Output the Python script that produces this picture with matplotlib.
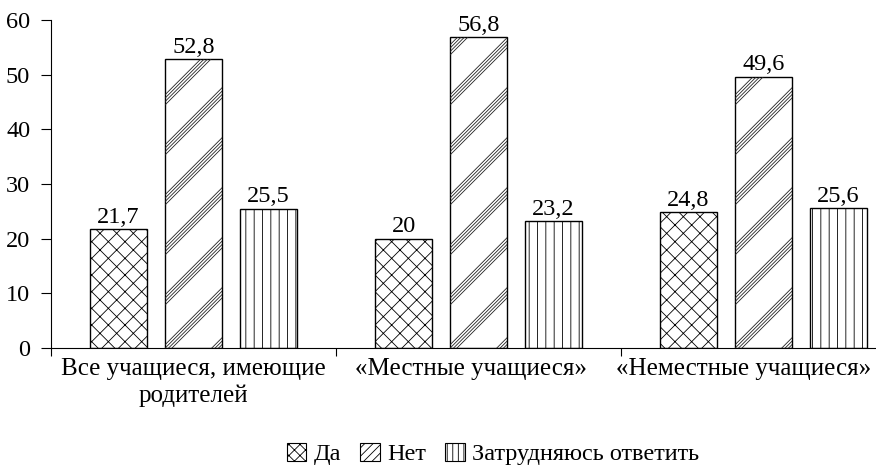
import matplotlib
matplotlib.use("Agg")
import matplotlib.pyplot as plt
from matplotlib.patches import Patch
from matplotlib.lines import Line2D
from matplotlib.transforms import IdentityTransform
import numpy as np

# данные
groups = ["Все учащиеся, имеющие\nродителей", "«Местные учащиеся»", "«Неместные учащиеся»"]
answers = ["Да", "Нет", "Затрудняюсь ответить"]
da = [21.7, 20.0, 24.8]
net = [52.8, 56.8, 49.6]
zatr = [25.5, 23.2, 25.6]
yticks = [0, 10, 20, 30, 40, 50, 60]

plt.rcParams['font.family'] = ['Liberation Serif', 'DejaVu Serif']
plt.rcParams['hatch.linewidth'] = 0.6
FS = 17.5

fig = plt.figure(figsize=(8.76, 4.68), dpi=100)
ax = fig.add_axes([51/876, 120/468, 855/876, 328/468])

x = np.arange(len(groups)) + 0.5
w = 0.2
step = 0.263
b1 = ax.bar(x - step, da, w, color='white', edgecolor='black', hatch='xx', lw=1)
b2 = ax.bar(x, net, w, color='white', edgecolor='black', lw=1)
b3 = ax.bar(x + step, zatr, w, color='white', edgecolor='black', hatch='||', lw=1)

def fmt(v):
    return f"{v:g}".replace('.', ',')

for bars, vals in [(b1, da), (b2, net), (b3, zatr)]:
    ax.bar_label(bars, labels=[fmt(v) for v in vals], padding=1, fontsize=FS)

ax.set_xlim(0, 3)
ax.set_ylim(0, 60)
ax.spines['top'].set_visible(False)
ax.spines['right'].set_visible(False)
ax.set_yticks(yticks)
ax.tick_params(axis='y', direction='out', length=7, labelsize=FS, pad=8)
ax.set_xticks([0, 1, 2, 3])
ax.set_xticklabels([])
ax.tick_params(axis='x', which='major', direction='out', length=6)
# подписи групп (последняя сдвинута влево, чтобы не обрезалась)
ax.set_xticks([0.5, 1.475, 2.43], minor=True)
ax.set_xticklabels(groups, minor=True, fontsize=18, linespacing=1.25)
ax.tick_params(axis='x', which='minor', length=0, pad=7)

# полосатая штриховка для "Нет" (пучки тонких линий)
renderer = fig.canvas.get_renderer()
s = 1.0
period = 50
for bar in b2:
    bb = bar.get_window_extent(renderer)
    y = bb.y0 - s * bb.width - period
    while y < bb.y1 + period:
        for k in range(4):
            yy = y + k * 3.4
            ln = Line2D([bb.x0, bb.x1], [yy, yy + s * bb.width], lw=0.6,
                        color='#222222', transform=IdentityTransform())
            ln.set_clip_path(bar)
            fig.add_artist(ln)
        y += period

handles = [Patch(facecolor='white', edgecolor='black', hatch='xxx', lw=0.8),
           Patch(facecolor='white', edgecolor='black', hatch='////', lw=0.8),
           Patch(facecolor='white', edgecolor='black', hatch='|||', lw=0.8)]
fig.legend(handles, answers, loc='center', bbox_to_anchor=(493/876, 14/468), ncol=3,
           frameon=False, fontsize=FS, handlelength=0.8, handleheight=0.8,
           handletextpad=0.3, columnspacing=0.8)

fig.savefig('out.png', dpi=100)
